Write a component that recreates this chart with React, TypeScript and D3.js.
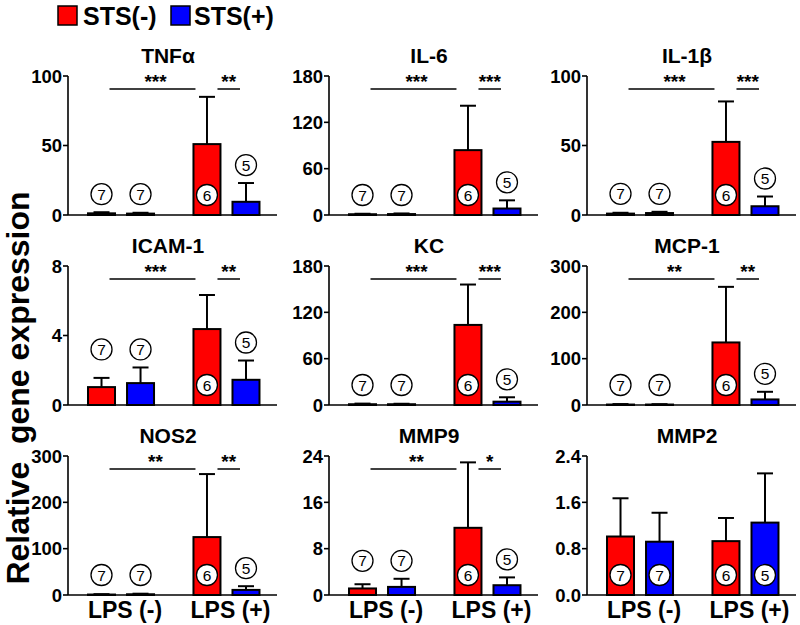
import React from "react";
import * as d3 from "d3";

const titles = ["TNFα", "IL-6", "IL-1β", "ICAM-1", "KC", "MCP-1", "NOS2", "MMP9", "MMP2"];
const groups = ["LPS (-)", "LPS (+)"];
const series = ["STS(-)", "STS(+)"];
const seriesColors = ["#ff0000", "#0000ff"];
const yMax = [100, 180, 100, 8, 180, 300, 300, 24, 2.4];
const yTicks = [
  [0, 50, 100],
  [0, 60, 120, 180],
  [0, 50, 100],
  [0, 4, 8],
  [0, 60, 120, 180],
  [0, 100, 200, 300],
  [0, 100, 200, 300],
  [0, 8, 16, 24],
  [0, 0.8, 1.6, 2.4],
];
// bar order: [LPS(-) STS(-), LPS(-) STS(+), LPS(+) STS(-), LPS(+) STS(+)]
const means = [
  [1.2, 1.0, 51, 9.5],
  [1.0, 1.2, 84, 8.4],
  [1.0, 1.4, 52.6, 6.3],
  [1.03, 1.26, 4.37, 1.45],
  [1.0, 1.0, 103.7, 4.3],
  [1.0, 1.0, 135, 12],
  [1.0, 1.6, 125, 11],
  [1.13, 1.4, 11.6, 1.69],
  [1.01, 0.92, 0.93, 1.25],
];
const errors = [
  [0.8, 0.6, 34, 13.5],
  [0.6, 0.8, 57.5, 10.6],
  [0.6, 0.9, 29.1, 7.0],
  [0.53, 0.9, 1.96, 1.11],
  [0.8, 0.6, 52.3, 5.7],
  [1.0, 0.8, 120, 16.5],
  [0.8, 1.2, 136, 8],
  [0.73, 1.4, 11.3, 1.35],
  [0.66, 0.5, 0.4, 0.85],
];
const nValues = [7, 7, 6, 5];
const labelInside = [
  [false, false, true, false],
  [false, false, true, false],
  [false, false, true, false],
  [false, false, true, false],
  [false, false, true, false],
  [false, false, true, false],
  [false, false, true, false],
  [false, false, true, false],
  [true, true, true, true],
];
const stars = [
  ["***", "**"],
  ["***", "***"],
  ["***", "***"],
  ["***", "**"],
  ["***", "***"],
  ["**", "**"],
  ["**", "**"],
  ["**", "*"],
  [],
];

const FONT = "'Liberation Sans', Arial, Helvetica, sans-serif";
const colX = [68, 329, 587];
const rowBase = [215, 405, 595];
const plotH = 139;
const plotW = 209;

function Panel({ idx }: { idx: number }) {
  const x0 = colX[idx % 3];
  const base = rowBase[Math.floor(idx / 3)];
  const y = d3.scaleLinear().domain([0, yMax[idx]]).range([base, base - plotH]);
  const gx = d3.scaleBand<string>().domain(groups).range([x0 + 14, x0 + 197.5]).paddingInner(0.26).paddingOuter(0);
  const sx = d3.scaleBand<string>().domain(series).range([0, gx.bandwidth()]).paddingInner(0.308).paddingOuter(0.154);
  const bw = sx.bandwidth();
  const bars = means[idx].map((m, i) => {
    const g = groups[Math.floor(i / 2)];
    const s = series[i % 2];
    const left = (gx(g) as number) + (sx(s) as number);
    return { m, e: errors[idx][i], left, cx: left + bw / 2, color: seriesColors[i % 2], i };
  });
  const fmt = yMax[idx] < 5 && yMax[idx] !== 8 ? d3.format(".1f") : d3.format("d");
  const labelY = bars.map((b) => {
    if (labelInside[idx][b.i]) return base - 20;
    return Math.min(base - 20, y(b.m + b.e) - 18);
  });
  const sharedY = labelY.map((ly, i) => {
    const partner = i % 2 === 0 ? i + 1 : i - 1;
    if (!labelInside[idx][i] && !labelInside[idx][partner]) return Math.min(ly, labelY[partner]);
    return ly;
  });
  const lineY = base - plotH + 13;
  const st = stars[idx];
  const longX1 = bars[0].cx + 8;
  const longX2 = bars[2].left + 2;
  const shortX1 = bars[2].left + bw - 3;
  const shortX2 = bars[3].cx - 6;
  return (
    <g>
      <text x={x0 + 100} y={base - plotH - 13} textAnchor="middle" fontFamily={FONT} fontWeight="bold" fontSize={21}>
        {titles[idx]}
      </text>
      <line x1={x0} x2={x0} y1={base} y2={base - plotH} stroke="#000" strokeWidth={1.6} />
      {yTicks[idx].map((t) => (
        <g key={t}>
          <line x1={x0 - 5} x2={x0} y1={y(t)} y2={y(t)} stroke="#000" strokeWidth={1.6} />
          <text x={x0 - 6} y={y(t)} dy="0.36em" textAnchor="end" fontFamily={FONT} fontWeight="bold" fontSize={18.5}>
            {fmt(t)}
          </text>
        </g>
      ))}
      {bars.map((b) => (
        <g key={"e" + b.i}>
          <line x1={b.cx} x2={b.cx} y1={y(b.m)} y2={y(b.m + b.e)} stroke="#000" strokeWidth={2} />
          <line x1={b.cx - 8} x2={b.cx + 8} y1={y(b.m + b.e)} y2={y(b.m + b.e)} stroke="#000" strokeWidth={2} />
        </g>
      ))}
      {bars.map((b) => (
        <rect key={"b" + b.i} x={b.left} y={y(b.m)} width={bw} height={base - y(b.m)} fill={b.color} stroke="#000" strokeWidth={2} />
      ))}
      <line x1={x0} x2={x0 + plotW} y1={base} y2={base} stroke="#000" strokeWidth={1.6} />
      {bars.map((b) => (
        <g key={"n" + b.i}>
          <circle cx={b.cx} cy={sharedY[b.i]} r={10.5} fill="#fff" stroke="#000" strokeWidth={1.3} />
          <text x={b.cx} y={sharedY[b.i]} dy="0.36em" textAnchor="middle" fontFamily={FONT} fontSize={15.5}>
            {nValues[b.i]}
          </text>
        </g>
      ))}
      {st.length > 0 && (
        <g>
          <line x1={longX1} x2={longX2} y1={lineY} y2={lineY} stroke="#000" strokeWidth={1.5} />
          <text x={(longX1 + longX2) / 2 + 3} y={lineY - 1} textAnchor="middle" fontFamily={FONT} fontWeight="bold" fontSize={19}>
            {st[0]}
          </text>
          <line x1={shortX1} x2={shortX2} y1={lineY} y2={lineY} stroke="#000" strokeWidth={1.5} />
          <text x={(shortX1 + shortX2) / 2} y={lineY - 1} textAnchor="middle" fontFamily={FONT} fontWeight="bold" fontSize={19}>
            {st[1]}
          </text>
        </g>
      )}
      {idx >= 6 &&
        groups.map((g) => (
          <text key={g} x={(gx(g) as number) + gx.bandwidth() / 2 + 4} y={base + 23} textAnchor="middle" fontFamily={FONT} fontWeight="bold" fontSize={23}>
            {g}
          </text>
        ))}
    </g>
  );
}

export default function App() {
  return (
    <svg width={800} height={625} style={{ position: "absolute", left: 0, top: 0, background: "#fff" }}>
      <rect x={0} y={0} width={800} height={625} fill="#fff" />
      {series.map((s, i) => (
        <g key={s}>
          <rect x={[58, 171][i]} y={6} width={19} height={19} fill={seriesColors[i]} stroke="#000" strokeWidth={1.5} />
          <text x={[83, 194][i]} y={25} fontFamily={FONT} fontWeight="bold" fontSize={25}>
            {s}
          </text>
        </g>
      ))}
      <text
        transform="translate(29,388) rotate(-90)"
        textAnchor="middle"
        fontFamily={FONT}
        fontWeight="bold"
        fontSize={32}
        style={{ whiteSpace: "pre" }}
      >
        {"Relative  gene expression"}
      </text>
      {titles.map((t, i) => (
        <Panel key={t} idx={i} />
      ))}
    </svg>
  );
}
